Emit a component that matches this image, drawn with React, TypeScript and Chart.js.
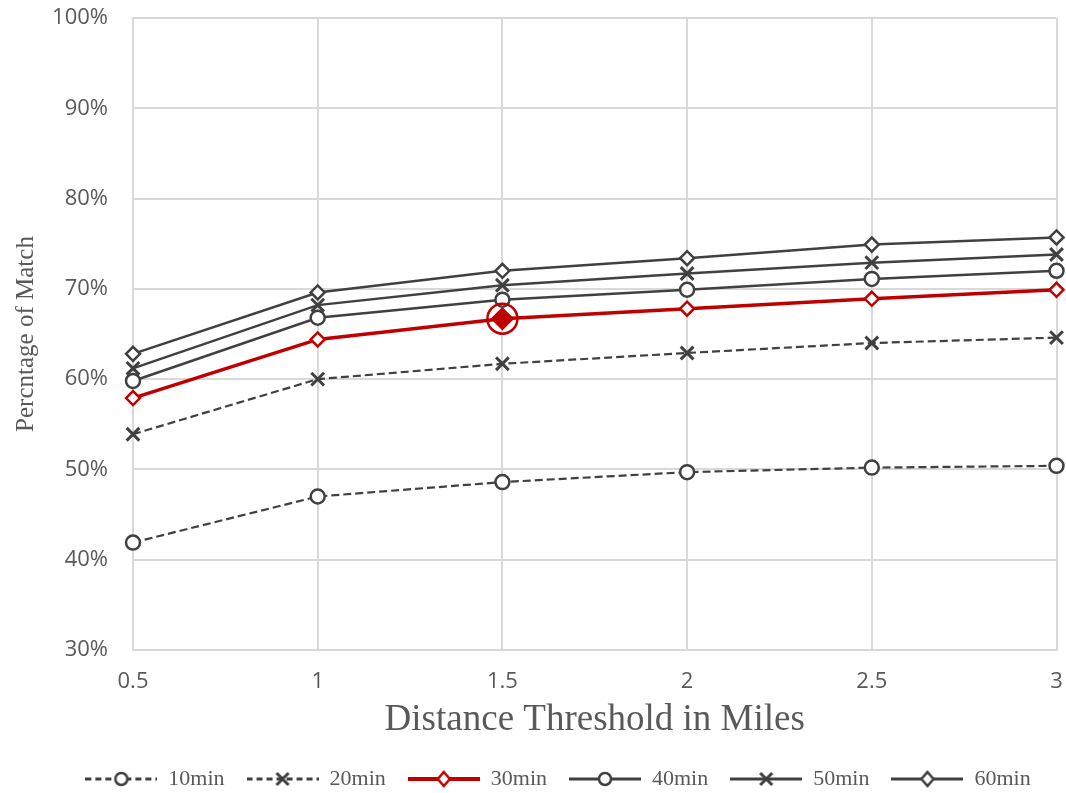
import React, { useEffect, useRef } from "react";
import { Chart, registerables } from "chart.js";

Chart.register(...registerables);

const categories = ["0.5", "1", "1.5", "2", "2.5", "3"];
const yTickMin = 30;
const yTickMax = 100;
const seriesNames = ["10min", "20min", "30min", "40min", "50min", "60min"];
const s10 = [41.9, 47.0, 48.6, 49.7, 50.2, 50.4];
const s20 = [53.9, 60.0, 61.7, 62.9, 64.0, 64.6];
const s30 = [57.9, 64.4, 66.7, 67.8, 68.9, 69.9];
const s40 = [59.8, 66.8, 68.8, 69.9, 71.1, 72.0];
const s50 = [61.2, 68.2, 70.4, 71.7, 72.9, 73.8];
const s60 = [62.8, 69.6, 72.0, 73.4, 74.9, 75.7];
const highlightIndex = 2; // 30min at 1.5 miles

const DARK = "#404040";
const RED = "#c00000";
const GRAY_TEXT = "#595959";
const GRID = "#d9d9d9";

type Style = { color: string; dash: number[]; width: number; point: string };
const styles: Style[] = [
  { color: DARK, dash: [8, 4], width: 2.2, point: "circle" },
  { color: DARK, dash: [8, 4], width: 2.2, point: "crossRot" },
  { color: RED, dash: [], width: 3.5, point: "rectRot" },
  { color: DARK, dash: [], width: 2.5, point: "circle" },
  { color: DARK, dash: [], width: 2.5, point: "crossRot" },
  { color: DARK, dash: [], width: 2.5, point: "rectRot" },
];

function legendImage(st: Style): HTMLCanvasElement {
  const c = document.createElement("canvas");
  c.width = 72;
  c.height = 22;
  const ctx = c.getContext("2d")!;
  const cy = 11;
  const cx = 36;
  ctx.strokeStyle = st.color;
  ctx.lineWidth = st.color === RED ? 4 : 3;
  ctx.setLineDash(st.dash.length ? [6, 4] : []);
  ctx.beginPath();
  ctx.moveTo(0, cy);
  ctx.lineTo(72, cy);
  ctx.stroke();
  ctx.setLineDash([]);
  ctx.lineWidth = 2.5;
  ctx.fillStyle = "#fff";
  const r = 6;
  if (st.point === "circle") {
    ctx.beginPath();
    ctx.arc(cx, cy, r, 0, Math.PI * 2);
    ctx.fill();
    ctx.stroke();
  } else if (st.point === "rectRot") {
    ctx.beginPath();
    ctx.moveTo(cx, cy - r - 1);
    ctx.lineTo(cx + r, cy);
    ctx.lineTo(cx, cy + r + 1);
    ctx.lineTo(cx - r, cy);
    ctx.closePath();
    ctx.fill();
    ctx.stroke();
  } else {
    ctx.lineWidth = 3;
    ctx.beginPath();
    ctx.moveTo(cx - r, cy - r);
    ctx.lineTo(cx + r, cy + r);
    ctx.moveTo(cx + r, cy - r);
    ctx.lineTo(cx - r, cy + r);
    ctx.stroke();
  }
  return c;
}

const legendShift = {
  id: "legendShift",
  afterLayout(chart: any) {
    const lg = chart.legend;
    if (lg) {
      lg.left += 21;
      lg.right += 21;
    }
  },
};

export default function App() {
  const ref = useRef<HTMLCanvasElement | null>(null);
  useEffect(() => {
    const values = [s10, s20, s30, s40, s50, s60];
    const datasets: any[] = values.map((d, i) => {
      const st = styles[i];
      const isRed = i === 2;
      const isCross = st.point === "crossRot";
      return {
        label: seriesNames[i],
        data: d,
        borderColor: st.color,
        borderWidth: st.width,
        borderDash: st.dash,
        pointStyle: st.point,
        pointRadius: isRed
          ? d.map((_, j) => (j === highlightIndex ? 10 : 7))
          : isCross
          ? 9
          : 7,
        pointBorderWidth: isCross ? 3 : 2.5,
        pointBorderColor: st.color,
        pointBackgroundColor: isRed
          ? d.map((_, j) => (j === highlightIndex ? RED : "#fff"))
          : "#fff",
        tension: 0,
        order: 6 - i,
      };
    });
    datasets.push({
      label: "highlight",
      data: s30.map((v, j) => (j === highlightIndex ? v : null)),
      showLine: false,
      pointStyle: "circle",
      pointRadius: 15,
      pointBorderWidth: 2.5,
      pointBorderColor: RED,
      pointBackgroundColor: "rgba(0,0,0,0)",
      order: 0,
    });
    const images = styles.map(legendImage);
    const chart = new Chart(ref.current!, {
      type: "line",
      data: { labels: categories, datasets },
      plugins: [legendShift],
      options: {
        animation: false,
        responsive: false,
        layout: { padding: { top: 18, right: 0, left: 0, bottom: -7 } },
        plugins: {
          tooltip: { enabled: false },
          legend: {
            position: "bottom",
            labels: {
              usePointStyle: true,
              pointStyleWidth: 72,
              boxHeight: 20,
              padding: 22,
              color: GRAY_TEXT,
              font: { family: "'Liberation Serif', serif", size: 22 },
              generateLabels: () =>
                seriesNames.map((n, i) => ({
                  text: n,
                  pointStyle: images[i] as any,
                  fillStyle: "#fff",
                  strokeStyle: "#fff",
                  lineWidth: 0,
                  hidden: false,
                  datasetIndex: i,
                  fontColor: GRAY_TEXT,
                })),
            },
          },
        },
        scales: {
          x: {
            type: "category",
            offset: false,
            grid: { color: GRID, lineWidth: 2, drawTicks: false },
            border: { color: GRID, width: 2 },
            ticks: {
              color: GRAY_TEXT,
              font: { family: "'Open Sans', sans-serif", size: 22 },
              padding: 19,
              maxRotation: 0,
            },
            title: {
              display: true,
              text: "Distance Threshold in Miles",
              color: GRAY_TEXT,
              font: { family: "'Liberation Serif', serif", size: 37 },
              padding: { top: 0, bottom: 4 },
            },
            afterFit: (s: any) => {
              s.height = 96;
              s.paddingLeft = 0;
              s.paddingRight = 0;
            },
          },
          y: {
            min: yTickMin,
            max: yTickMax,
            grid: { color: GRID, lineWidth: 2, drawTicks: false },
            border: { color: GRID, width: 2 },
            ticks: {
              stepSize: 10,
              color: GRAY_TEXT,
              font: { family: "'Open Sans', sans-serif", size: 22 },
              padding: 25,
              callback: (v: any) => v + "%",
            },
            title: {
              display: true,
              text: "Percntage of Match",
              color: GRAY_TEXT,
              font: { family: "'Liberation Serif', serif", size: 25 },
              padding: { top: 11, bottom: 0 },
            },
            afterFit: (s: any) => {
              s.width = 133;
              s.paddingTop = 0;
              s.paddingBottom = 0;
            },
          },
        },
      },
    });
    return () => chart.destroy();
  }, []);
  return (
    <div
      style={{
        position: "absolute",
        left: 0,
        top: 0,
        width: 1066,
        height: 793,
        overflow: "hidden",
        background: "#fff",
      }}
    >
      <canvas ref={ref} width={1074} height={793} style={{ display: "block" }} />
    </div>
  );
}
